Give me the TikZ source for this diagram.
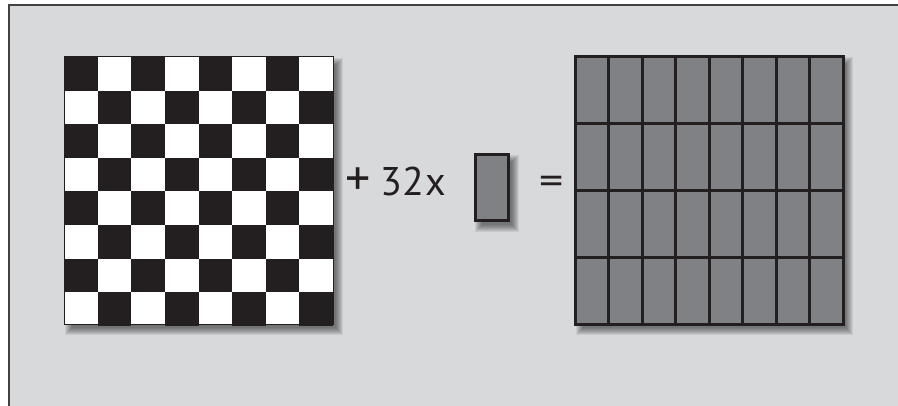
\documentclass[tikz,border=0pt]{standalone}
\usepackage{fontspec}
\setmainfont{PT Sans}
\definecolor{bg}{HTML}{D8D9DB}
\definecolor{ink}{HTML}{231F20}
\definecolor{cellgray}{HTML}{808184}
\newcommand\softshadow[4]{%
  \foreach \k in {0,...,7}{%
    \pgfmathsetmacro\e{\k-2}%
    \fill[black,opacity=0.07] (#1+6-\e,#2+6-\e) rectangle (#3+5+\e,#4+5+\e);
  }%
}
\tikzset{
  bigtext/.style={font=\fontsize{40}{40}\selectfont, text=ink, inner sep=0pt},
  gridline/.style={draw=ink, line width=3pt},
}
\begin{document}
\begin{tikzpicture}[x=1pt,y=-1pt]
\useasboundingbox (0,0) rectangle (898,406);
\fill[white] (0,0) rectangle (898,406);
\fill[bg] (9,5) rectangle (898,406);
\draw[ink!85, line width=2pt] (8.5,406) -- (8.5,5) -- (898,5);

% shadows
\softshadow{64}{57}{333}{325}
\softshadow{575}{56}{843}{325}
\softshadow{474}{154}{509}{222}

% checkerboard
\def\s{33.625}
\fill[white] (64,57) rectangle (333,325);
\foreach \i in {0,...,7}{
  \foreach \j in {0,...,7}{
    \pgfmathtruncatemacro\p{mod(\i+\j,2)}
    \ifnum\p=0
      \fill[ink] (64+\i*\s,57+\j*\s) rectangle (64+\i*\s+\s,57+\j*\s+\s);
    \fi
  }
}
\draw[ink, line width=1pt] (64,57) rectangle (333,325);

% result grid
\fill[cellgray] (575,56.5) rectangle (843,325);
\foreach \i in {1,...,7}{
  \draw[gridline] (575+\i*33.5,56.5) -- (575+\i*33.5,325);
}
\foreach \j in {1,2,3}{
  \draw[gridline] (575,56.5+\j*67.125) -- (843,56.5+\j*67.125);
}
\draw[gridline] (575,56.5) rectangle (843,325);

% single tile
\fill[cellgray] (475,155) rectangle (508,221);
\draw[gridline] (475,155) rectangle (508,221);

% texts
\node[bigtext, anchor=base, scale=1.25] (plus) at (358,196) {+};
\node[bigtext, anchor=base west] (count) at (380,196) {32\kern2pt x};
\node[bigtext, anchor=center, xscale=1.2] (eq) at (551.5,185) {=};
\end{tikzpicture}
\end{document}
